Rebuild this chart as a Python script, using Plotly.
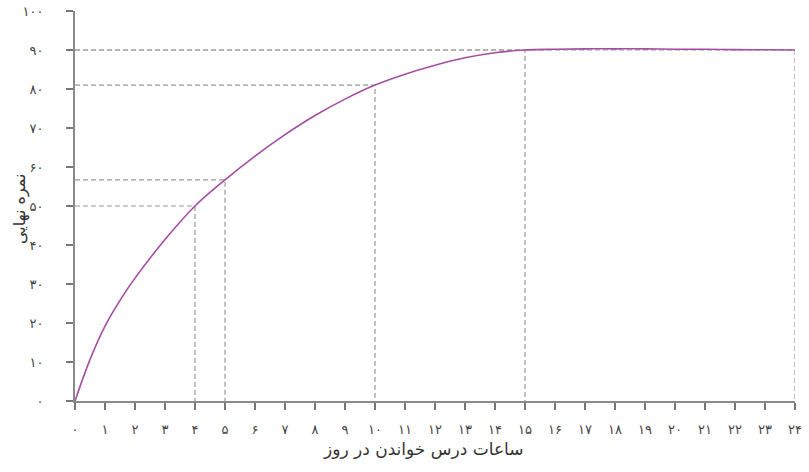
import plotly.graph_objects as go

# Data
hours = [0, 0.5, 1, 1.5, 2, 3, 4, 5, 6, 7, 8, 9, 10, 11, 12, 13, 14, 15,
         16, 17, 18, 19, 20, 21, 22, 23, 24]
scores = [0, 10.6, 19.2, 25.8, 31.5, 41.4, 50, 56.7, 62.8, 68.3, 73.2, 77.4, 81,
          83.8, 86.1, 88.0, 89.3, 90, 90.2, 90.3, 90.3, 90.3, 90.2, 90.2, 90.1, 90.05, 90]

marked_hours = [4, 5, 10, 15, 24]
marked_scores = [50, 56.7, 81, 90, 90]

fa_digits = "۰۱۲۳۴۵۶۷۸۹"
def fa(n):
    return "".join(fa_digits[int(c)] for c in str(n))

x_ticks = list(range(0, 25))
x_ticktext = [fa(v) for v in x_ticks]
y_ticks = list(range(0, 101, 10))
y_ticktext = [fa(v) for v in y_ticks]

x_title = "ساعات درس خواندن در روز"
y_title = "نمره نهایی"

fig = go.Figure()

for hx, sy in zip(marked_hours, marked_scores):
    fig.add_trace(go.Scatter(
        x=[0, hx, hx], y=[sy, sy, 0], mode="lines",
        line=dict(color="#9a9a9a", width=1.2, dash="5px,3px"),
        hoverinfo="skip", showlegend=False, cliponaxis=False))

fig.add_trace(go.Scatter(
    x=hours, y=scores, mode="lines",
    line=dict(color="#a44da3", width=1.6, shape="spline", smoothing=1.0),
    showlegend=False, cliponaxis=False))

axis_font = dict(family="DejaVu Sans", size=13, color="#444")

fig.update_layout(
    width=809, height=472,
    margin=dict(l=75, r=14, t=11, b=71, autoexpand=False),
    paper_bgcolor="white", plot_bgcolor="white",
    xaxis=dict(range=[0, 24], tickvals=x_ticks, ticktext=x_ticktext,
               showgrid=False, zeroline=False, showline=True,
               linecolor="#8a8a8a", linewidth=2, automargin=False,
               ticks="outside", ticklen=7, tickwidth=1.5, tickcolor="#777",
               tickfont=axis_font, ticklabelstandoff=8),
    yaxis=dict(range=[0, 100], tickvals=y_ticks, ticktext=y_ticktext,
               showgrid=False, zeroline=False, showline=True,
               linecolor="#8a8a8a", linewidth=2, automargin=False,
               ticks="outside", ticklen=7, tickwidth=1.5, tickcolor="#777",
               tickfont=axis_font, ticklabelstandoff=20),
    annotations=[
        dict(text=x_title, xref="paper", yref="paper",
             x=(423 - 75) / 720, y=-(449 - 401) / 390,
             xanchor="center", yanchor="middle", showarrow=False,
             font=dict(family="DejaVu Sans", size=17, color="#333")),
        dict(text=y_title, xref="paper", yref="paper",
             x=-(75 - 20) / 720, y=(401 - 208) / 390,
             xanchor="center", yanchor="middle", showarrow=False,
             textangle=-90,
             font=dict(family="DejaVu Sans", size=16, color="#333")),
    ],
)

fig.write_html("out.html",
               config={"displayModeBar": False},
               post_script="document.body.style.margin='0';document.body.style.overflow='hidden';")
